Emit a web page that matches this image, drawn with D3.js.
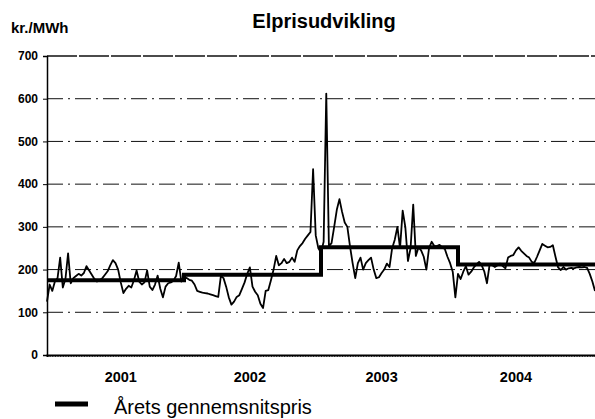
<!DOCTYPE html>
<html>
<head>
<meta charset="utf-8">
<script src="https://cdn.jsdelivr.net/npm/d3@7"></script>
<style>
    body { margin: 0; background: #fff; }
    svg { font-family: "Liberation Sans", Arial, sans-serif; }
    .charttitle { font-weight: bold; font-size: 20px; }
</style>
</head>
<body>
<div id="chart"></div>
<script>
// weekly spot price, kr./MWh (weeks 0..208)
var weeklyPrice = [
    125, 165, 150, 172, 180, 228, 158, 178, 238, 168,
    180, 185, 190, 186, 192, 208, 198, 188, 178, 172,
    175, 180, 188, 196, 210, 222, 215, 200, 170, 145,
    155, 162, 158, 175, 198, 172, 165, 170, 198, 160,
    152, 165, 186, 155, 135, 160, 168, 170, 174, 185,
    216, 172, 183, 180, 176, 174, 165, 150, 148, 146,
    145, 144, 142, 140, 138, 136, 185, 180, 160, 135,
    118, 125, 136, 140, 155, 170, 190, 205, 160, 148,
    140, 120, 110, 150, 152, 175, 200, 232, 210, 215,
    225, 215, 218, 228, 218, 245, 255, 262, 272, 280,
    288, 435, 280, 250, 240, 265, 612, 255, 262, 300,
    340, 365, 335, 310, 300, 255, 215, 180, 215, 228,
    200, 215, 222, 228, 200, 180, 182, 192, 200, 214,
    206, 250, 270, 300, 250, 338, 300, 220, 250, 352,
    232, 252, 245, 230, 200, 250, 265, 255, 255, 258,
    252, 248, 230, 215, 195, 135, 190, 178, 195, 208,
    188, 195, 205, 212, 218, 210, 195, 168, 212, 210,
    206, 210, 214, 208, 203, 228, 232, 234, 245, 252,
    244, 238, 232, 228, 218, 216, 230, 245, 260, 256,
    252, 253, 257, 230, 205, 199, 206, 200, 203, 204,
    203, 205, 206, 205, 206, 204, 190, 172, 150
];

var years = ["2001", "2002", "2003", "2004"];
var yearStartWeek = [0, 52, 104, 156];
var yearEndWeek = [52, 104, 156, 208];
var yearAverage = [175, 188, 252, 212];
var yearLabelWeek = [28, 77, 127, 178];
var yTicks = [0, 100, 200, 300, 400, 500, 600, 700];

var width = 595;
var height = 419;
var margin = {
    top: 56,
    right: 0,
    bottom: 64,
    left: 47
};
var chartWidth = width - margin.left - margin.right;
var chartHeight = height - margin.top - margin.bottom;

var svg = d3.select("#chart").append("svg")
    .attr("width", width)
    .attr("height", height);

var xScale = d3.scaleLinear()
    .domain([0, weeklyPrice.length - 1])
    .range([0, chartWidth]);

var yScale = d3.scaleLinear()
    .domain([0, 700])
    .range([chartHeight, 0]);

var overallG = svg.append("g")
    .attr("transform", "translate(" + margin.left + ", " + margin.top + ")");

// dash-dot gridlines
overallG.selectAll("line.grid")
    .data(yTicks.filter(function(d){ return d > 0; }))
    .enter()
    .append("line")
    .attr("class", "grid")
    .attr("x1", 0)
    .attr("x2", chartWidth)
    .attr("y1", function(d){ return yScale(d); })
    .attr("y2", function(d){ return yScale(d); })
    .style("stroke", "#111")
    .style("stroke-width", function(d){ return d === 700 ? 1.4 : 1; })
    .style("stroke-dasharray", function(d){ return d === 700 ? "30,2" : "16,5,2,5"; });

// y axis
var yAxisG = overallG.append("g")
    .call(d3.axisLeft(yScale).tickValues(yTicks).tickSize(4).tickPadding(5));
yAxisG.select(".domain").style("stroke-width", 1.5);
yAxisG.selectAll("text")
    .style("font-size", "12px")
    .style("font-weight", "bold")
    .attr("fill", "#000");

// x axis: weekly minor ticks + year labels
var xAxisG = overallG.append("g")
    .attr("transform", "translate(0, " + chartHeight + ")")
    .call(d3.axisBottom(xScale).tickValues(d3.range(0, weeklyPrice.length, 1)).tickSize(2).tickFormat(""));
xAxisG.select(".domain").style("stroke-width", 2);
xAxisG.selectAll(".tick line").style("stroke-width", 0.8);

overallG.append("g")
    .selectAll("text")
    .data(years)
    .enter()
    .append("text")
    .attr("x", function(d, i){ return xScale(yearLabelWeek[i]); })
    .attr("y", chartHeight + 27)
    .attr("text-anchor", "middle")
    .style("font-size", "14.5px")
    .style("font-weight", "bold")
    .text(function(d){ return d; });

// weekly price line
var priceLine = d3.line()
    .x(function(d, i){ return xScale(i); })
    .y(function(d){ return yScale(d); });

overallG.append("path")
    .datum(weeklyPrice)
    .attr("d", priceLine)
    .style("fill", "none")
    .style("stroke", "#000")
    .style("stroke-width", 1.8)
    .style("stroke-linejoin", "round");

// yearly average step line
var avgPoints = [];
years.forEach(function(y, i){
    avgPoints.push([yearStartWeek[i], yearAverage[i]]);
    avgPoints.push([yearEndWeek[i], yearAverage[i]]);
});

overallG.append("path")
    .datum(avgPoints)
    .attr("d", d3.line()
        .x(function(d){ return xScale(d[0]); })
        .y(function(d){ return yScale(d[1]); }))
    .style("fill", "none")
    .style("stroke", "#000")
    .style("stroke-width", 4);

// titles
svg.append("text")
    .attr("class", "charttitle")
    .attr("x", 324)
    .attr("y", 28)
    .attr("text-anchor", "middle")
    .text("Elprisudvikling");

svg.append("text")
    .attr("x", 11)
    .attr("y", 33)
    .style("font-size", "15px")
    .style("font-weight", "bold")
    .text("kr./MWh");

// legend
svg.append("line")
    .attr("x1", 55)
    .attr("x2", 88)
    .attr("y1", 404)
    .attr("y2", 404)
    .style("stroke", "#000")
    .style("stroke-width", 5);

svg.append("text")
    .attr("x", 114)
    .attr("y", 414)
    .style("font-size", "20px")
    .text("Årets gennemsnitspris");
</script>
</body>
</html>
